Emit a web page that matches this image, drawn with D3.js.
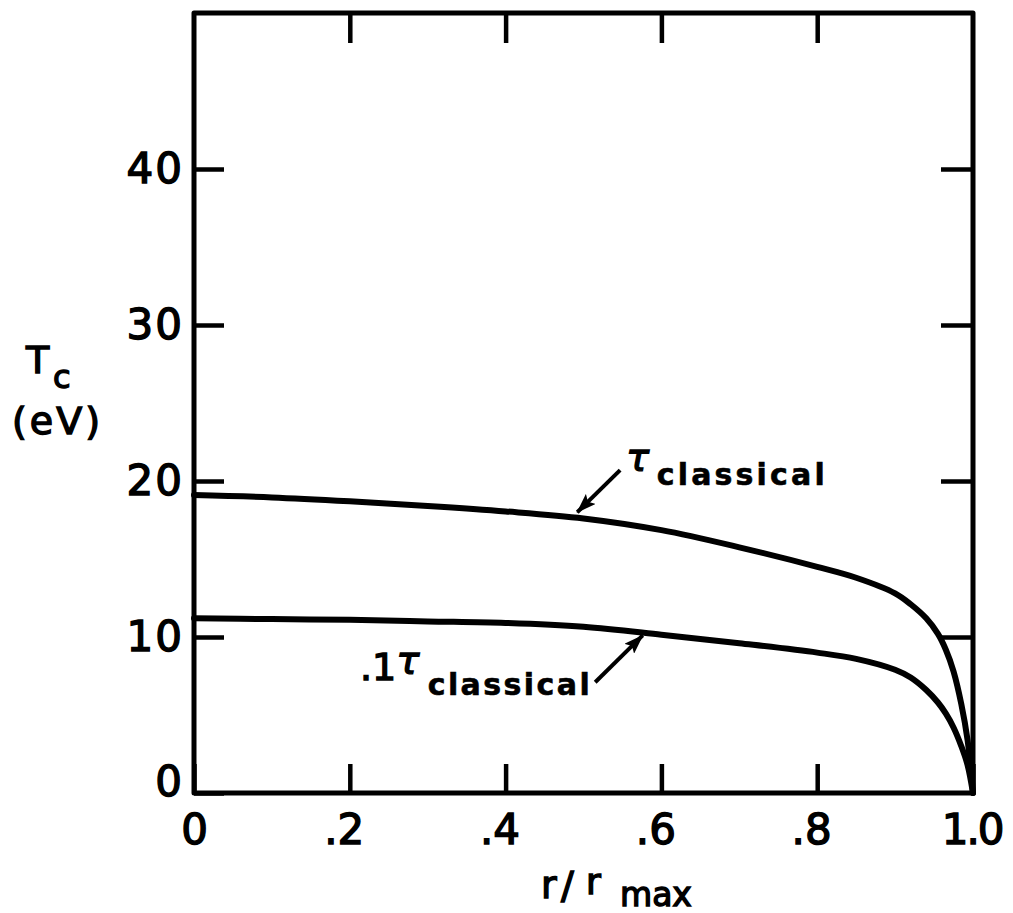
<!DOCTYPE html>
<html>
<head>
<meta charset="utf-8">
<script src="https://cdn.jsdelivr.net/npm/d3@7"></script>
<style>
  html, body { margin: 0; padding: 0; background: #fff; }
  svg { display: block; }
  text { font-family: "DejaVu Sans", sans-serif; fill: #000; stroke: #000; stroke-width: 1.4px; }
</style>
</head>
<body>
<svg id="chart" width="1013" height="913"></svg>
<script>
// ---- data ----
const xTicks = [0, 0.2, 0.4, 0.6, 0.8, 1.0];
const xTickLabels = ["0", ".2", ".4", ".6", ".8", "1.0"];
const yTicks = [0, 10, 20, 30, 40];
const yTickLabels = ["0", "10", "20", "30", "40"];

const rClassical = [0, 0.1, 0.2, 0.3, 0.4, 0.5, 0.6, 0.7, 0.8, 0.85, 0.9, 0.92, 0.94, 0.955, 0.965, 0.975, 0.985, 0.993, 1.0];
const tClassical = [19.1, 18.95, 18.7, 18.4, 18.05, 17.6, 16.85, 15.75, 14.5, 13.8, 12.8, 12.1, 11.2, 10.2, 9.2, 7.8, 5.7, 3.4, 0];

const rTenth = [0, 0.1, 0.2, 0.3, 0.4, 0.5, 0.6, 0.7, 0.8, 0.85, 0.9, 0.92, 0.94, 0.955, 0.965, 0.975, 0.985, 0.993, 1.0];
const tTenth = [11.2, 11.15, 11.1, 11.0, 10.9, 10.65, 10.15, 9.6, 9.0, 8.6, 7.9, 7.4, 6.6, 5.8, 5.1, 4.2, 3.0, 1.8, 0];

(function () {
const svg = d3.select("#chart");
const x = d3.scaleLinear().domain([0, 1]).range([194, 973]);
const y = d3.scaleLinear().domain([0, 50]).range([793, 13]);

const g = svg.append("g");

// frame
g.append("rect")
  .attr("x", x(0)).attr("y", y(50))
  .attr("width", x(1) - x(0)).attr("height", y(0) - y(50))
  .attr("fill", "none").attr("stroke", "#000").attr("stroke-width", 5)
  .attr("stroke-linejoin", "round");

function styleAxis(sel) {
  sel.select(".domain").remove();
  sel.selectAll(".tick line").attr("stroke", "#000").attr("stroke-width", 4.5);
}

// bottom axis
const last = xTicks.length - 1;
const axB = g.append("g").attr("transform", `translate(0,${y(0)})`)
  .call(d3.axisBottom(x).tickValues(xTicks).tickSizeInner(-29).tickSizeOuter(0)
    .tickPadding(21).tickFormat((d, i) => xTickLabels[i]));
styleAxis(axB);
axB.selectAll(".tick text")
  .attr("font-size", 42)
  .attr("font-family", "DejaVu Sans, sans-serif")
  .attr("text-anchor", (d, i) => (i === 0 ? "middle" : "end"))
  .attr("dx", (d, i) => (i === 0 ? 0 : (i === last ? 29 : 14)))
  .attr("letter-spacing", (d, i) => (i === last ? -2 : 0));

// top axis
const axT = g.append("g").attr("transform", `translate(0,${y(50)})`)
  .call(d3.axisTop(x).tickValues(xTicks.slice(1, -1)).tickSizeInner(-30).tickSizeOuter(0).tickFormat(""));
styleAxis(axT);

// left axis
const axL = g.append("g").attr("transform", `translate(${x(0)},0)`)
  .call(d3.axisLeft(y).tickValues(yTicks).tickSizeInner(-30).tickSizeOuter(0)
    .tickPadding(10).tickFormat((d, i) => yTickLabels[i]));
styleAxis(axL);
axL.selectAll(".tick text")
  .attr("font-size", 42)
  .attr("font-family", "DejaVu Sans, sans-serif")
  .attr("letter-spacing", 2)
  .attr("dy", (d) => (d === 0 ? "0.05em" : "0.32em"));

// right axis
const axR = g.append("g").attr("transform", `translate(${x(1)},0)`)
  .call(d3.axisRight(y).tickValues(yTicks.slice(1)).tickSizeInner(-32).tickSizeOuter(0).tickFormat(""));
styleAxis(axR);

// curves
const line = d3.line().x(d => x(d[0])).y(d => y(d[1])).curve(d3.curveCatmullRom.alpha(0.5));
const series = [
  d3.zip(rClassical, tClassical),
  d3.zip(rTenth, tTenth)
];
g.selectAll(".curve").data(series).enter().append("path")
  .attr("class", "curve")
  .attr("d", line)
  .attr("fill", "none").attr("stroke", "#000").attr("stroke-width", 6)
  .attr("stroke-linecap", "round").attr("stroke-linejoin", "round");

// arrow marker
svg.append("defs").append("marker")
  .attr("id", "arrow").attr("viewBox", "0 0 20 14")
  .attr("refX", 19).attr("refY", 7)
  .attr("markerWidth", 20).attr("markerHeight", 14)
  .attr("markerUnits", "userSpaceOnUse")
  .attr("orient", "auto")
  .append("path").attr("d", "M0,0 L20,7 L0,14 L4,7 Z").attr("fill", "#000");

// annotation arrows (data coordinates)
const arrows = [
  { from: [0.547, 20.7], to: [0.492, 18.0] },
  { from: [0.515, 7.1], to: [0.576, 10.1] }
];
g.selectAll(".arrow").data(arrows).enter().append("line")
  .attr("x1", d => x(d.from[0])).attr("y1", d => y(d.from[1]))
  .attr("x2", d => x(d.to[0])).attr("y2", d => y(d.to[1]))
  .attr("stroke", "#000").attr("stroke-width", 4)
  .attr("marker-end", "url(#arrow)");

// upper label: τ classical
g.append("text").attr("x", x(0.555)).attr("y", y(20.7))
  .attr("font-size", 38).attr("font-style", "italic").text("τ");
g.append("text").attr("x", x(0.594)).attr("y", y(19.74))
  .attr("font-size", 30).attr("font-weight", "bold").style("stroke-width", "0.6px")
  .attr("textLength", 168).attr("lengthAdjust", "spacing").text("classical");

// lower label: .1 τ classical
g.append("text").attr("x", x(0.213)).attr("y", y(7.24))
  .attr("font-size", 38).text(".1");
g.append("text").attr("x", x(0.260)).attr("y", y(7.69))
  .attr("font-size", 38).attr("font-style", "italic").text("τ");
g.append("text").attr("x", x(0.300)).attr("y", y(6.28))
  .attr("font-size", 30).attr("font-weight", "bold").style("stroke-width", "0.6px")
  .attr("textLength", 162).attr("lengthAdjust", "spacing").text("classical");

// y-axis title
svg.append("text").attr("x", 26).attr("y", 373).attr("font-size", 38).text("T");
svg.append("text").attr("x", 53).attr("y", 388).attr("font-size", 32).text("c");
svg.append("text").attr("x", 12).attr("y", 434).attr("font-size", 38)
  .attr("letter-spacing", 3).text("(eV)");

// x-axis title
svg.append("text").attr("x", 541).attr("y", 898).attr("font-size", 38).text("r");
svg.append("text").attr("x", 561).attr("y", 898).attr("font-size", 38).text("/");
svg.append("text").attr("x", 586).attr("y", 894).attr("font-size", 36).text("r");
svg.append("text").attr("x", 620).attr("y", 906).attr("font-size", 33).text("max");
})();
</script>
</body>
</html>
